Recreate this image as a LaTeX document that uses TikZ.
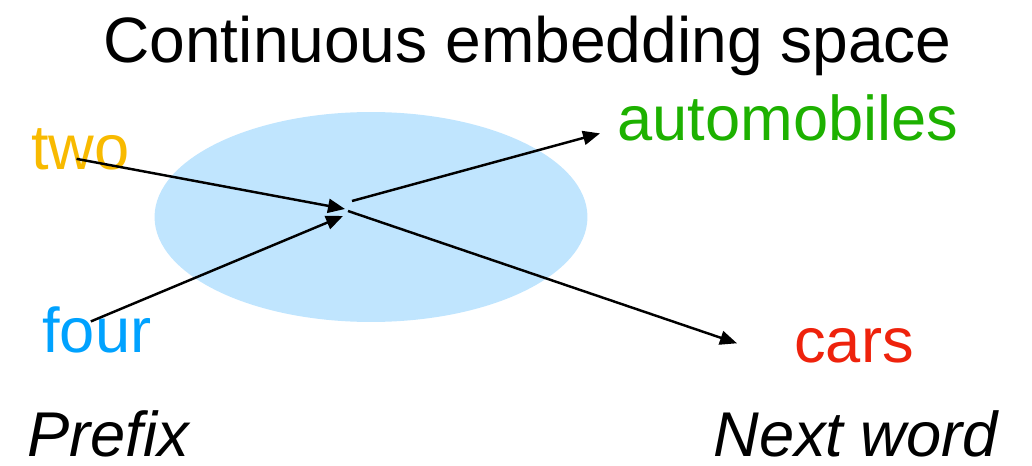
\documentclass[tikz,border=0pt]{standalone}
\usepackage{fontspec}
\setmainfont{Liberation Sans}
\usetikzlibrary{arrows.meta,calc,shapes.geometric}

\definecolor{twocol}{RGB}{248,186,0}
\definecolor{fourcol}{RGB}{0,162,255}
\definecolor{autocol}{RGB}{29,177,0}
\definecolor{carscol}{RGB}{238,34,12}
\definecolor{spacecol}{RGB}{192,229,254}

\begin{document}
\begin{tikzpicture}[x=0.02cm,y=-0.02cm,
    word/.style={anchor=base west,inner sep=0pt,font=\fontsize{36pt}{40pt}\selectfont},
    link/.style={line width=1.4pt,-{Triangle[length=0.34cm,width=0.28cm]}}]
  \useasboundingbox (0,0) rectangle (1032,466);
  % the embedding space
  \node[ellipse,fill=spacecol,inner sep=0pt,minimum width=8.66cm,minimum height=4.2cm]
    (space) at (371,217) {};
  \node[word,font=\fontsize{36.5pt}{40pt}\selectfont] (title) at (103,63) {Continuous embedding space};
  % words
  \node[word,text=twocol] (two) at (31,170) {two};
  \node[word,text=fourcol] (four) at (42,352) {four};
  \node[word,text=autocol] (auto) at (617,141) {automobiles};
  \node[word,text=carscol] (cars) at (794,362) {cars};
  \node[word,font=\fontsize{36pt}{40pt}\selectfont\itshape] (prefix) at (27,456) {Prefix};
  \node[word,font=\fontsize{36pt}{40pt}\selectfont\itshape] (next) at (713,456) {Next word};
  % where the prefix is combined
  \coordinate (in-two) at (345,209);
  \coordinate (in-four) at (343,216);
  \coordinate (out-auto) at (352,201);
  \coordinate (out-cars) at (348,211);
  \draw[link] ($(two.center)+(-4,9)$) -- (in-two);
  \draw[link] ($(four.center)+(-6,-8)$) -- (in-four);
  \draw[link] (out-auto) -- ($(auto.west)+(-17,15)$);
  \draw[link] (out-cars) -- ($(cars.west)+(-57,-2)$);
\end{tikzpicture}
\end{document}
